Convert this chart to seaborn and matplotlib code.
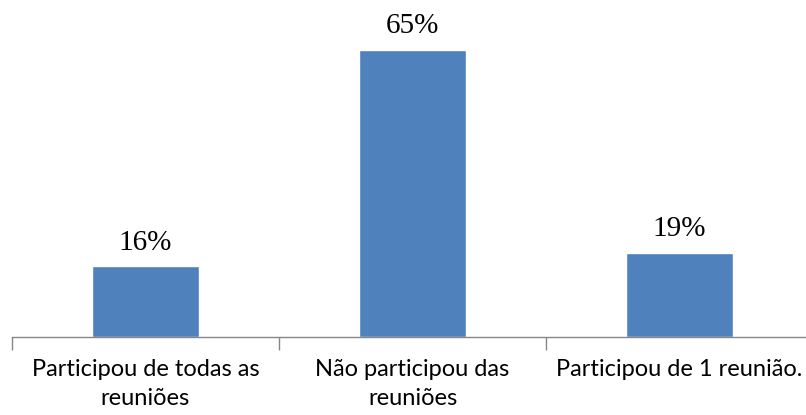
import matplotlib
matplotlib.use("Agg")
import matplotlib.pyplot as plt
import seaborn as sns
import pandas as pd
from matplotlib.ticker import FixedLocator

categories = ["Participou de todas as\nreuniões", "Não participou das\nreuniões", "Participou de 1 reunião."]
values = [16, 65, 19]
value_labels = ["16%", "65%", "19%"]

sns.set_theme(style="white")
plt.rcParams['font.family'] = ['Lato', 'DejaVu Sans']

W, H = 806, 415
fig = plt.figure(figsize=(W / 100, H / 100), dpi=100)
left, right = 12, 813
bottom, top = 337, 28
ax = fig.add_axes([left / W, (H - bottom) / H, (right - left) / W, (bottom - top) / H])

df = pd.DataFrame({"cat": categories, "val": values})
sns.barplot(data=df, x="cat", y="val", color="#4F81BD", width=0.4, saturation=1, ax=ax)

ax.set_ylim(0, 70)
ax.set_xlim(-0.5, 2.5)
ax.set_xlabel("")
ax.set_ylabel("")
ax.set_yticks([])
for s in ["top", "right", "left"]:
    ax.spines[s].set_visible(False)
ax.spines["bottom"].set_color("#868686")
ax.spines["bottom"].set_linewidth(1.0)

ax.xaxis.set_minor_locator(FixedLocator([-0.5, 0.5, 1.5, 2.5]))
ax.tick_params(axis="x", which="major", length=0, pad=16, labelsize=17, colors="black")
ax.tick_params(axis="x", which="minor", length=9, width=1, color="#868686", bottom=True)
for lbl in ax.get_xticklabels():
    lbl.set_linespacing(1.45)

for i, (v, t) in enumerate(zip(values, value_labels)):
    ax.annotate(t, (i, v), xytext=(0, 12), textcoords="offset points",
                ha="center", va="baseline", fontsize=21, family="Liberation Serif", color="black")

fig.savefig("out.png", dpi=100)
